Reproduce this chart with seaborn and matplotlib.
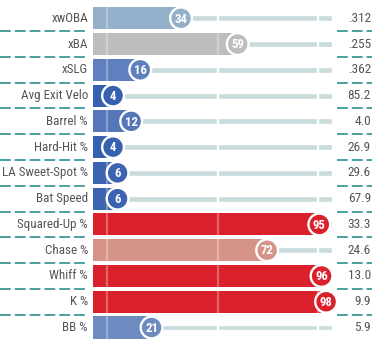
import matplotlib
matplotlib.use("Agg")
import matplotlib.pyplot as plt
import seaborn as sns
import pandas as pd
from matplotlib.transforms import blended_transform_factory

metrics = ["xwOBA", "xBA", "xSLG", "Avg Exit Velo", "Barrel %", "Hard-Hit %",
           "LA Sweet-Spot %", "Bat Speed", "Squared-Up %", "Chase %", "Whiff %",
           "K %", "BB %"]
percentiles = [34, 59, 16, 4, 12, 4, 6, 6, 95, 72, 96, 98, 21]
stat_values = [".312", ".255", ".362", "85.2", "4.0", "26.9", "29.6", "67.9",
               "33.3", "24.6", "13.0", "9.9", "5.9"]
bar_colors = ["#94afca", "#bdbdbd", "#5f7fbe", "#3660b0", "#5577b9", "#3660b0",
              "#3c63b0", "#3c63b0", "#d9202b", "#d59487", "#d9202b", "#d9202b",
              "#6d8bc0"]

sns.set_style("white")
plt.rcParams['font.family'] = ['Roboto Condensed', 'Archivo Narrow', 'DejaVu Sans']

W, H = 380, 345
fig = plt.figure(figsize=(W / 100, H / 100), dpi=100)
left_px, right_px = 93, 332
top_px, bot_px = 5.4, 340.4
ax = fig.add_axes([left_px / W, 1 - bot_px / H, (right_px - left_px) / W, (bot_px - top_px) / H])

df = pd.DataFrame({"metric": metrics, "pct": percentiles})
X0, X1 = -4.85, 100.6
n = len(metrics)

trans_ax = blended_transform_factory(ax.transAxes, ax.transData)

# background track
for i in range(n):
    ax.barh(i, X1 - X0, left=X0, height=0.23, color="#c8dcdc", zorder=0)

sns.barplot(data=df, x="pct", y="metric", hue="metric", palette=bar_colors,
            legend=False, orient="h", width=0.855, ax=ax, zorder=2,
            saturation=1)
for p in ax.patches[n:]:
    w = p.get_width()
    p.set_x(X0)
    p.set_width(w - X0)
    p.set_linewidth(0)

ax.set_xlim(X0, X1)
ax.set_ylim(n - 0.5, -0.5)

# reference lines
for xv in [1.3, 50.3, 94.4]:
    ax.axvline(xv, color="white", lw=1.6, zorder=1)
    ax.axvline(xv, color="white", lw=1.6, alpha=0.3, zorder=3)

# circles
ax.scatter(percentiles, range(n), s=245, c=bar_colors, edgecolors="white",
           linewidths=1.7, zorder=4, clip_on=False)
for i, p in enumerate(percentiles):
    ax.text(p, i + 0.03, str(p), ha="center", va="center", color="white",
            fontsize=9.2, fontweight="bold", zorder=5)

# labels and values
for i in range(n):
    ax.text(-0.021, i, metrics[i], transform=trans_ax, ha="right", va="center",
            fontsize=9.4, color="#555555")
    ax.text(1.163, i, stat_values[i], transform=trans_ax, ha="right", va="center",
            fontsize=9.6, color="#555555")

# dashed separators
for i in range(n - 1):
    y = i + 0.5
    ax.plot([-0.389, -0.021], [y, y], transform=trans_ax, color="#3a9a9a",
            lw=1.3, ls=(0, (6, 2.2)), clip_on=False)
    ax.plot([1.021, 1.167], [y, y], transform=trans_ax, color="#3a9a9a",
            lw=1.3, ls=(0, (6, 2.2)), clip_on=False)

ax.set_axis_off()
fig.savefig("out.png", dpi=100)
